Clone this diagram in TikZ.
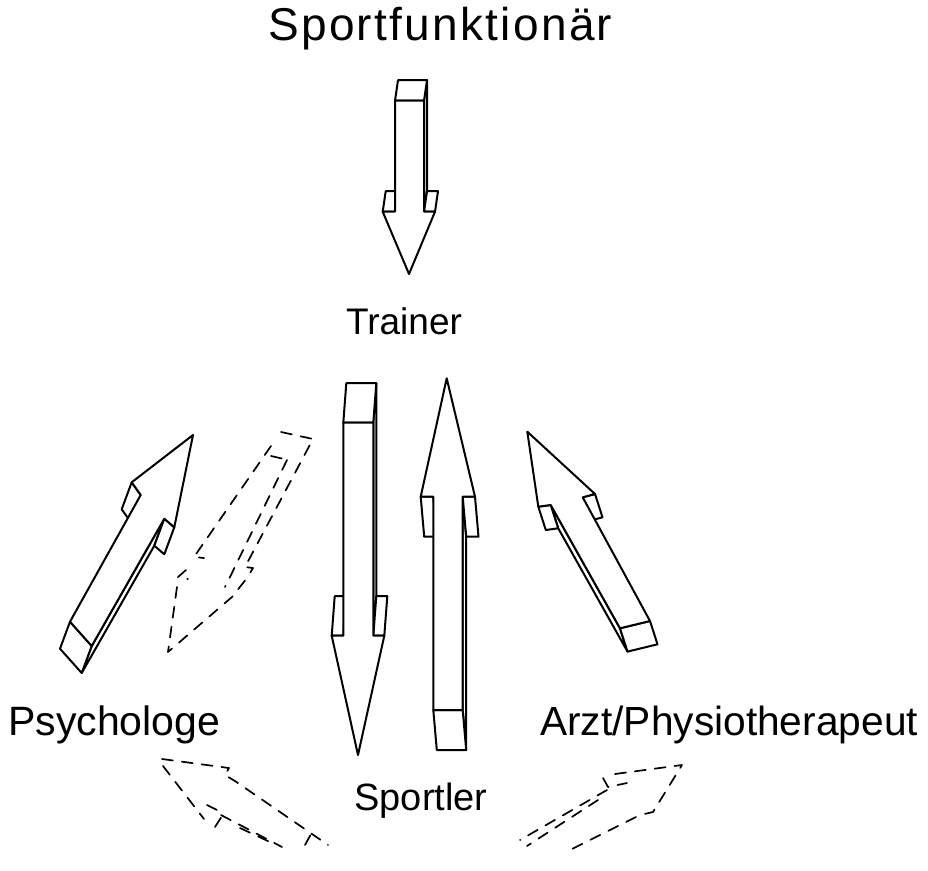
\documentclass[tikz,border=0pt]{standalone}
\usepackage{fontspec}
\setmainfont{Liberation Sans}
\usetikzlibrary{calc}

\tikzset{
  body/.style={draw=black, fill=white, line width=2pt, line join=round},
  ghost/.style={draw=black, line width=1.7pt, dash pattern=on 11pt off 9pt, line cap=round, line join=round},
  lbl/.style={font=\fontsize{40}{48}\selectfont, inner sep=0pt},
}

% one face of the extruded block: edge (#1)-(#2) swept along (ex)
\newcommand\blockface[2]{%
  \path[body] (#1) -- (#2) -- ($(#2)+(ex)$) -- ($(#1)+(ex)$) -- cycle;}

% block arrow: #1 tip, #2 head corner, #3 shoulder, #4 tail corner,
% #5 tail corner, #6 shoulder, #7 head corner, #8 depth vector,
% #9 shaft side that shows its depth (l or r)
\newcommand\blockarrow[9]{%
  \coordinate (t) at #1; \coordinate (hl) at #2; \coordinate (sl) at #3;
  \coordinate (tl) at #4; \coordinate (tr) at #5; \coordinate (sr) at #6;
  \coordinate (hr) at #7; \coordinate (ex) at #8;
  \ifx l#9\blockface{sl}{tl}\else\blockface{tr}{sr}\fi
  \blockface{tl}{tr}\blockface{hl}{sl}\blockface{sr}{hr}
  \path[body] (t) -- (hl) -- (sl) -- (tl) -- (tr) -- (sr) -- (hr) -- cycle;}

\begin{document}
\begin{tikzpicture}[x=1pt, y=-1pt]
\useasboundingbox (0,0) rectangle (928,870);

% labels
\node[lbl, anchor=base west, font=\fontsize{46}{54}\selectfont] (funk) at (268,40) {\addfontfeature{LetterSpace=5}Sportfunktionär};
\node[lbl, anchor=base, font=\fontsize{37}{44}\selectfont] (trainer) at (404,334) {Trainer};
\node[lbl, anchor=base west, font=\fontsize{41}{48}\selectfont] (psych) at (8,735) {Psychologe};
\node[lbl, anchor=base west, font=\fontsize{40.7}{48}\selectfont] (arzt) at (540,735) {Arzt/Physiotherapeut};
\node[lbl, anchor=base, font=\fontsize{38}{46}\selectfont] (sportler) at (421,810) {Sportler};

% Sportfunktionaer -> Trainer
\blockarrow{(409,274)}{(382.7,211.7)}{(395,211.7)}{(395,100.7)}{(424,100.7)}{(424,211.7)}{(435,211.7)}{(3,-20.5)}{r}
% Trainer -> Sportler
\blockarrow{(358,755)}{(331.7,635.7)}{(343.3,635.7)}{(343.3,422.7)}{(373.3,422.7)}{(373.3,635.7)}{(384.3,635.7)}{(3,-39.5)}{r}
% Sportler -> Trainer
\blockarrow{(446.7,378.3)}{(420.7,496.7)}{(433.3,496.7)}{(433.3,710)}{(462.7,710)}{(462.7,496.7)}{(475,496.7)}{(3.5,40)}{r}
% Psychologe -> Trainer
\blockarrow{(193,435)}{(131.7,482.3)}{(140.7,495)}{(70,621.7)}{(91.7,646)}{(164.3,518.7)}{(174.3,527.3)}{(-10,27)}{r}
% Arzt -> Trainer
\blockarrow{(527.3,431.7)}{(538.3,506.7)}{(550.7,505)}{(620,628.3)}{(650,621)}{(582.7,497.3)}{(595,494)}{(7.5,23.3)}{l}

% dashed arrow, Trainer -> Psychologe
\draw[ghost] (281,432) -- (313,439) -- (245,567) -- (253,568) -- (247,578);
\draw[ghost] (271,446) -- (194,557) -- (204,558);
\draw[ghost] (186,570) -- (178,577) -- (188,579);
\draw[ghost] (177,587) -- (168,652) -- (232,597) -- (247,578);
\draw[ghost] (287,460) -- (230,577) -- (225,587);
\draw[ghost] (271,456) -- (284,459);

% dashed arrow, Sportler -> Psychologe
\draw[ghost] (162,759) -- (229,768) -- (225,775) -- (235,781) -- (328,845);
\draw[ghost] (163,766) -- (204,819);
\draw[ghost] (207,805) -- (217,810);
\draw[ghost] (215,827) -- (222,816);
\draw[ghost] (221,815) -- (282,847);
\draw[ghost] (240,828) -- (270,842);
\draw[ghost] (305,845) -- (311,834);

% dashed arrow, Sportler -> Arzt
\draw[ghost] (615,774) -- (682,765) -- (653,812) -- (640,815);
\draw[ghost] (603,778) -- (608,787) -- (627,783);
\draw[ghost] (607,790) -- (520,840);
\draw[ghost] (598,800) -- (527,846);
\draw[ghost] (636,817) -- (572,849);
\end{tikzpicture}
\end{document}
